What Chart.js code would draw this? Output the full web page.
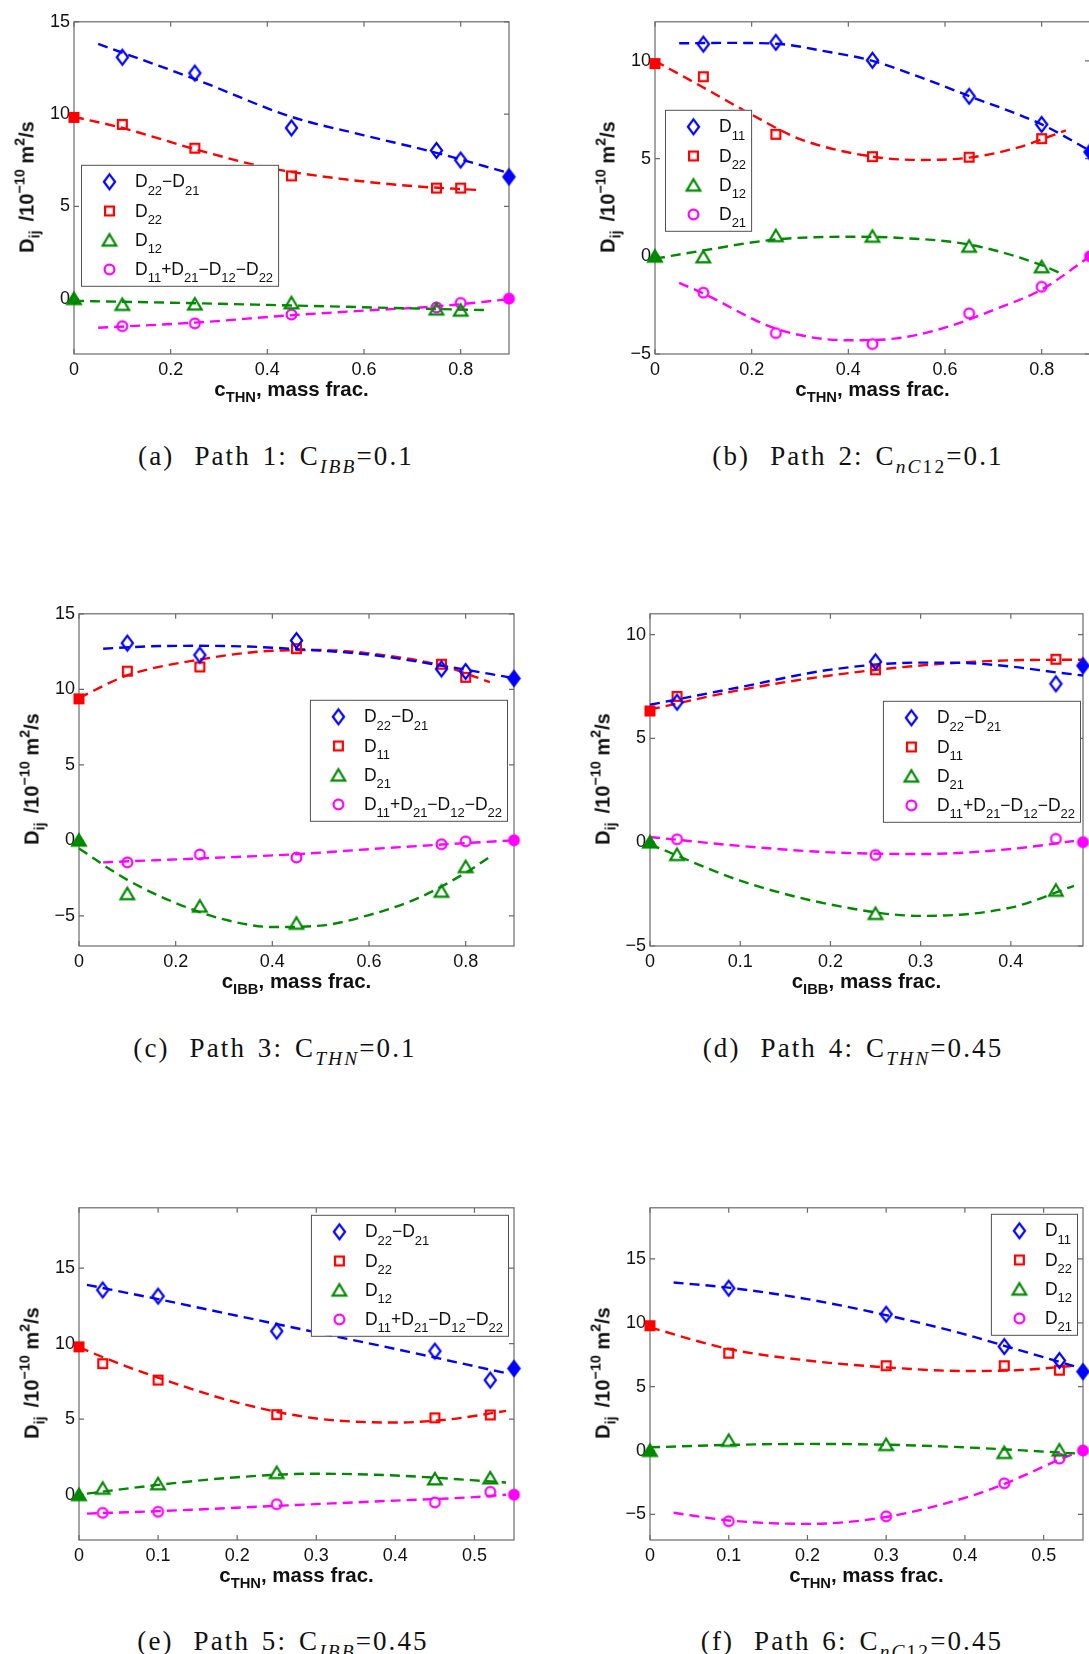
<!DOCTYPE html>
<html>
<head>
<meta charset="utf-8">
<script src="https://cdn.jsdelivr.net/npm/chart.js@4.4.1/dist/chart.umd.min.js"></script>
<style>
html,body{margin:0;padding:0;background:#fff;}
body{width:1089px;height:1654px;position:relative;overflow:hidden;}
canvas{position:absolute;}
.yt,.xt,.cap{position:absolute;white-space:nowrap;line-height:1;color:#111;}
.yt{transform:translate(-50%,-50%) rotate(-90deg);font:bold 20px 'Liberation Sans',Arial,sans-serif;}
.xt{transform:translate(-50%,-50%);font:bold 20.5px 'Liberation Sans',Arial,sans-serif;}
.cap{transform:translate(-50%,-50%);font:27px 'Liberation Serif','Times New Roman',serif;letter-spacing:2.1px;word-spacing:3px;}
.cap .g1{display:inline-block;width:20px;}
.cap .g2{display:inline-block;width:12px;}
sub,sup{font-size:72%;line-height:0;position:relative;vertical-align:baseline;}
sub{top:0.42em;}
sup{top:-0.6em;}
.yt .gap{display:inline-block;width:9px;}
</style>
</head>
<body>
<script>
// --- tick values
const xTicks09 = [0, 0.2, 0.4, 0.6, 0.8];
const xTicks48 = [0, 0.1, 0.2, 0.3, 0.4];
const xTicks55 = [0, 0.1, 0.2, 0.3, 0.4, 0.5];
const yTicksA = [0, 5, 10, 15];
const yTicksB = [-5, 0, 5, 10];
const yTicksC = [-5, 0, 5, 10, 15];
const yTicksD = [-5, 0, 5, 10];
const yTicksE = [0, 5, 10, 15];
const yTicksF = [-5, 0, 5, 10, 15];

// --- legend labels (order: blue, red, green, magenta)
const legDiff = ['D_{22}−D_{21}', 'D_{22}', 'D_{12}', 'D_{11}+D_{21}−D_{12}−D_{22}'];
const legPlain = ['D_{11}', 'D_{22}', 'D_{12}', 'D_{21}'];
const legIBB = ['D_{22}−D_{21}', 'D_{11}', 'D_{21}', 'D_{11}+D_{21}−D_{12}−D_{22}'];

// (a) Path 1
const xA = [0.1, 0.25, 0.45, 0.75, 0.8];
const yA = [
  [13.08, 12.22, 9.25, 8.03, 7.51],
  [9.44, 8.15, 6.65, 5.99, 5.99],
  [-0.32, -0.30, -0.23, -0.57, -0.63],
  [-1.49, -1.34, -0.86, -0.48, -0.23]
];
const endA = [[0.9, 6.6], [0, 9.82], [0, 0], [0.9, 0]];
const fitA = [
  [[0.05,13.8],[0.25,11.9],[0.45,9.85],[0.6,8.85],[0.75,7.9],[0.9,6.8]],
  [[0,9.85],[0.1,9.25],[0.25,8.1],[0.4,7.1],[0.55,6.5],[0.7,6.1],[0.84,5.88]],
  [[0,-0.12],[0.2,-0.22],[0.45,-0.37],[0.65,-0.5],[0.85,-0.62]],
  [[0.05,-1.58],[0.25,-1.3],[0.45,-0.9],[0.6,-0.65],[0.75,-0.42],[0.9,-0.03]]
];

// (b) Path 2
const xB = [0.1, 0.25, 0.45, 0.65, 0.8];
const yB = [
  [10.86, 10.95, 10.03, 8.19, 6.75],
  [9.19, 6.24, 5.10, 5.07, 6.02],
  [-0.03, 1.05, 1.02, 0.51, -0.54],
  [-1.86, -3.93, -4.49, -2.92, -1.56]
];
const endB = [[0.9, 5.34], [0, 9.86], [0, 0], [0.9, 0]];
const fitB = [
  [[0.05,10.9],[0.15,10.92],[0.25,10.88],[0.35,10.5],[0.45,10.0],[0.55,9.15],[0.65,8.2],[0.8,6.75],[0.9,5.4]],
  [[0,10.0],[0.1,8.64],[0.2,7.25],[0.3,6.0],[0.45,5.1],[0.55,4.93],[0.65,5.05],[0.75,5.56],[0.85,6.44]],
  [[0,-0.12],[0.1,0.3],[0.25,0.86],[0.4,1.0],[0.5,0.95],[0.65,0.6],[0.8,-0.45],[0.84,-0.88]],
  [[0.05,-1.36],[0.1,-1.9],[0.25,-3.7],[0.4,-4.3],[0.5,-4.2],[0.6,-3.65],[0.7,-2.75],[0.8,-1.7],[0.9,0]]
];

// (c) Path 3
const xC = [0.1, 0.25, 0.45, 0.75, 0.8];
const yC = [
  [13.06, 12.27, 13.23, 11.35, 11.18],
  [11.2, 11.48, 12.69, 11.66, 10.79],
  [-3.54, -4.37, -5.5, -3.38, -1.75],
  [-1.46, -0.94, -1.14, -0.26, -0.07]
];
const endC = [[0.9, 10.72], [0, 9.37], [0, 0], [0.9, 0]];
const fitC = [
  [[0.05,12.69],[0.15,12.85],[0.25,12.88],[0.35,12.83],[0.45,12.66],[0.6,12.3],[0.75,11.57],[0.9,10.74]],
  [[0,9.43],[0.1,10.92],[0.25,11.97],[0.4,12.55],[0.5,12.6],[0.6,12.38],[0.75,11.57],[0.85,10.48]],
  [[0,-0.55],[0.1,-2.62],[0.2,-4.15],[0.3,-5.24],[0.4,-5.74],[0.5,-5.65],[0.6,-4.95],[0.7,-3.85],[0.8,-2.15],[0.85,-1.1]],
  [[0.05,-1.46],[0.25,-1.2],[0.45,-0.92],[0.6,-0.59],[0.75,-0.28],[0.9,0]]
];

// (d) Path 4
const xD = [0.03, 0.25, 0.45];
const yD = [
  [6.74, 8.69, 7.63],
  [7.02, 8.30, 8.81],
  [-0.60, -3.44, -2.32],
  [0.14, -0.62, 0.16]
];
const endD = [[0.48, 8.5], [0, 6.32], [0, 0], [0.48, 0]];
const fitD = [
  [[0,6.62],[0.1,7.47],[0.2,8.31],[0.3,8.65],[0.35,8.63],[0.4,8.46],[0.45,8.18],[0.48,8.03]],
  [[0,6.39],[0.1,7.33],[0.2,8.03],[0.3,8.51],[0.4,8.76],[0.48,8.79]],
  [[0,-0.1],[0.1,-1.85],[0.2,-3.0],[0.3,-3.55],[0.4,-3.15],[0.47,-2.1]],
  [[0,0.25],[0.1,-0.18],[0.2,-0.49],[0.3,-0.57],[0.4,-0.33],[0.47,0.06]]
];

// (e) Path 5
const xE = [0.03, 0.1, 0.25, 0.45, 0.52];
const yE = [
  [13.56, 13.15, 10.83, 9.51, 7.59],
  [8.68, 7.59, 5.30, 5.09, 5.28],
  [0.42, 0.72, 1.46, 1.04, 1.11],
  [-1.20, -1.13, -0.63, -0.51, 0.19]
];
const endE = [[0.55, 8.36], [0, 9.79], [0, 0], [0.55, 0]];
const fitE = [
  [[0.01,13.9],[0.1,12.95],[0.2,11.85],[0.3,10.75],[0.4,9.65],[0.54,8.05]],
  [[0,9.75],[0.05,8.7],[0.1,7.75],[0.2,6.1],[0.3,5.05],[0.4,4.78],[0.47,5.0],[0.54,5.55]],
  [[0.01,0.07],[0.1,0.65],[0.2,1.16],[0.3,1.39],[0.4,1.27],[0.54,0.81]],
  [[0.01,-1.25],[0.1,-1.09],[0.25,-0.74],[0.4,-0.39],[0.5,-0.16],[0.54,0]]
];

// (f) Path 6
const xF = [0.1, 0.3, 0.45, 0.52];
const yF = [
  [12.71, 10.67, 8.14, 7.05],
  [7.62, 6.64, 6.64, 6.29],
  [0.79, 0.46, -0.16, 0.03],
  [-5.53, -5.15, -2.56, -0.63]
];
const endF = [[0.55, 6.18], [0, 9.77], [0, 0], [0.55, 0]];
const fitF = [
  [[0.03,13.15],[0.1,12.75],[0.2,11.85],[0.3,10.6],[0.4,9.1],[0.45,8.2],[0.55,6.4]],
  [[0,9.64],[0.1,7.95],[0.2,7.05],[0.3,6.51],[0.4,6.23],[0.47,6.3],[0.54,6.64]],
  [[0,0.25],[0.1,0.44],[0.2,0.52],[0.3,0.46],[0.4,0.25],[0.5,-0.08],[0.54,-0.22]],
  [[0.03,-4.87],[0.1,-5.47],[0.2,-5.74],[0.3,-5.2],[0.4,-3.7],[0.45,-2.61],[0.52,-0.71],[0.54,-0.2]]
];

const COLORS = ['#0000ff', '#ff0000', '#008a00', '#ff00ff'];
const SHAPES = ['d', 's', 't', 'o'];
const FONT = "'Liberation Sans', Arial, sans-serif";
Chart.defaults.font.family = FONT;
Chart.defaults.font.size = 18;

// marker drawn on a small canvas, used as pointStyle
function mk(shape, color, fill) {
  const sz = {d: [17, 21], s: [13, 13], t: [20, 18], o: [15, 15]}[shape];
  const c = document.createElement('canvas');
  c.width = sz[0]; c.height = sz[1];
  const g = c.getContext('2d');
  const cx = sz[0] / 2, cy = sz[1] / 2;
  g.strokeStyle = color; g.fillStyle = color; g.lineWidth = 2.2;
  g.beginPath();
  if (shape === 'd') { g.moveTo(cx, cy - 7.4); g.lineTo(cx + 5.6, cy); g.lineTo(cx, cy + 7.4); g.lineTo(cx - 5.6, cy); g.closePath(); }
  else if (shape === 's') { g.rect(cx - 4.4, cy - 4.4, 8.8, 8.8); }
  else if (shape === 't') { g.moveTo(cx, cy - 6); g.lineTo(cx + 6.8, cy + 5.4); g.lineTo(cx - 6.8, cy + 5.4); g.closePath(); }
  else { g.arc(cx, cy, 4.9, 0, Math.PI * 2); }
  if (fill) g.fill();
  g.stroke();
  return c;
}
const OPEN = SHAPES.map((s, i) => mk(s, COLORS[i], false));
const FILLED = SHAPES.map((s, i) => mk(s, COLORS[i], true));

// text with _{sub} parts
function rich(ctx, s, x, y, draw) {
  const parts = s.split(/_\{([^}]*)\}/);
  parts.forEach((t, i) => {
    if (!t) return;
    const sub = i % 2 === 1;
    ctx.font = (sub ? '13px ' : '17.5px ') + FONT;
    if (draw) ctx.fillText(t, x, sub ? y + 7.5 : y);
    x += ctx.measureText(t).width;
  });
  return x;
}

const framePlugin = {
  id: 'frame',
  beforeDatasetsDraw(chart) {
    const {ctx, chartArea: a, scales: {x, y}} = chart;
    ctx.save();
    ctx.strokeStyle = '#6a6a6a';
    ctx.lineWidth = 1.2;
    ctx.strokeRect(a.left, a.top, a.right - a.left, a.bottom - a.top);
    ctx.beginPath();
    x.ticks.forEach(t => {
      const px = x.getPixelForValue(t.value);
      ctx.moveTo(px, a.bottom); ctx.lineTo(px, a.bottom - 5);
      ctx.moveTo(px, a.top); ctx.lineTo(px, a.top + 5);
    });
    y.ticks.forEach(t => {
      const py = y.getPixelForValue(t.value);
      ctx.moveTo(a.left, py); ctx.lineTo(a.left + 5, py);
      ctx.moveTo(a.right, py); ctx.lineTo(a.right - 5, py);
    });
    ctx.stroke();
    ctx.restore();
  }
};

function makeLegend(p) {
  return {
    id: 'rleg',
    afterDraw(chart) {
      const {ctx, chartArea: a} = chart;
      ctx.save();
      let tw = 0;
      p.leg.forEach(s => { tw = Math.max(tw, rich(ctx, s, 0, 0, false)); });
      const w = 54 + tw + 5, h = 121;
      const x0 = p.lp.left !== undefined ? a.left + p.lp.left : a.right - p.lp.right - w;
      const y0 = a.top + p.lp.top;
      ctx.fillStyle = '#fff';
      ctx.fillRect(x0, y0, w, h);
      ctx.strokeStyle = '#505050';
      ctx.lineWidth = 1;
      ctx.strokeRect(x0 + 0.5, y0 + 0.5, w, h);
      ctx.fillStyle = '#111';
      ctx.textBaseline = 'alphabetic';
      p.leg.forEach((s, i) => {
        const ry = y0 + 17 + i * 29.2;
        const m = OPEN[i];
        ctx.drawImage(m, x0 + 28.5 - m.width / 2, ry - m.height / 2);
        rich(ctx, s, x0 + 54, ry + 5.5, true);
      });
      ctx.restore();
    }
  };
}

const fmt = v => (v < 0 ? '\u2212' + (-v) : String(v));

const panels = [
  {r: [74, 19, 435, 335], xr: [0, 0.9], yr: [-3, 15], xt: xTicks09, yt: yTicksA, xs: xA, ys: yA, ends: endA, fits: fitA, leg: legDiff, lp: {left: 7, top: 143}, sub: 'THN',
   cap: '(a)<span class="g1"></span>Path 1:<span class="g2"></span>C<sub><i>IBB</i></sub>=0.1', cx: 276, cy: 456},
  {r: [655, 19, 435, 335], xr: [0, 0.9], yr: [-5, 12], xt: xTicks09, yt: yTicksB, xs: xB, ys: yB, ends: endB, fits: fitB, leg: legPlain, lp: {left: 10, top: 88}, sub: 'THN',
   cap: '(b)<span class="g1"></span>Path 2:<span class="g2"></span>C<sub><i>nC</i>12</sub>=0.1', cx: 858, cy: 456},
  {r: [79, 611, 435, 335], xr: [0, 0.9], yr: [-7, 15], xt: xTicks09, yt: yTicksC, xs: xC, ys: yC, ends: endC, fits: fitC, leg: legIBB, lp: {right: 7, top: 86}, sub: 'IBB',
   cap: '(c)<span class="g1"></span>Path 3:<span class="g2"></span>C<sub><i>THN</i></sub>=0.1', cx: 275, cy: 1048},
  {r: [650, 611, 433, 335], xr: [0, 0.48], yr: [-5, 11], xt: xTicks48, yt: yTicksD, xs: xD, ys: yD, ends: endD, fits: fitD, leg: legIBB, lp: {right: 3, top: 87}, sub: 'IBB',
   cap: '(d)<span class="g1"></span>Path 4:<span class="g2"></span>C<sub><i>THN</i></sub>=0.45', cx: 853, cy: 1048},
  {r: [79, 1205, 435, 335], xr: [0, 0.55], yr: [-3, 19], xt: xTicks55, yt: yTicksE, xs: xE, ys: yE, ends: endE, fits: fitE, leg: legDiff, lp: {right: 6, top: 7}, sub: 'THN',
   cap: '(e)<span class="g1"></span>Path 5:<span class="g2"></span>C<sub><i>IBB</i></sub>=0.45', cx: 283, cy: 1641},
  {r: [650, 1205, 433, 335], xr: [0, 0.55], yr: [-7, 19], xt: xTicks55, yt: yTicksF, xs: xF, ys: yF, ends: endF, fits: fitF, leg: legPlain, lp: {right: 6, top: 6}, sub: 'THN',
   cap: '(f)<span class="g1"></span>Path 6:<span class="g2"></span>C<sub><i>nC</i>12</sub>=0.45', cx: 852, cy: 1641}
];

panels.forEach(p => {
  const [L, T, W, H] = p.r;
  const cv = document.createElement('canvas');
  cv.width = W + 70; cv.height = H + 52;
  cv.style.left = (L - 60) + 'px';
  cv.style.top = (T - 12) + 'px';
  document.body.appendChild(cv);

  const datasets = [];
  p.fits.forEach((f, i) => datasets.push({
    data: f.map(q => ({x: q[0], y: q[1]})), showLine: true, pointRadius: 0,
    borderColor: COLORS[i], borderWidth: 2.4, borderDash: [10, 6],
    cubicInterpolationMode: 'monotone', clip: false, order: 3
  }));
  p.ys.forEach((ys, i) => datasets.push({
    data: ys.map((v, k) => ({x: p.xs[k], y: v})), pointStyle: OPEN[i], pointRadius: 6,
    clip: false, order: 2
  }));
  p.ends.forEach((e, i) => datasets.push({
    data: [{x: e[0], y: e[1]}], pointStyle: FILLED[i], pointRadius: 6, clip: false, order: 1
  }));

  const tickFont = {size: 18, family: FONT};
  new Chart(cv, {
    type: 'scatter',
    data: {datasets},
    options: {
      responsive: false, animation: false, events: [],
      layout: {padding: {top: 12, right: 10, left: 0, bottom: 0}},
      plugins: {legend: {display: false}, tooltip: {enabled: false}},
      scales: {
        x: {
          type: 'linear', min: p.xr[0], max: p.xr[1],
          grid: {display: false, drawTicks: false}, border: {display: false},
          afterBuildTicks: s => { s.ticks = p.xt.map(v => ({value: v})); },
          afterFit: s => { s.height = 40; },
          ticks: {padding: 5, autoSkip: false, maxRotation: 0, color: '#111', font: tickFont, callback: fmt}
        },
        y: {
          type: 'linear', min: p.yr[0], max: p.yr[1],
          grid: {display: false, drawTicks: false}, border: {display: false},
          afterBuildTicks: s => { s.ticks = p.yt.map(v => ({value: v})); },
          afterFit: s => { s.width = 60; },
          ticks: {padding: 4, autoSkip: false, color: '#111', font: tickFont, callback: fmt}
        }
      }
    },
    plugins: [framePlugin, makeLegend(p)]
  });

  const yt = document.createElement('div');
  yt.className = 'yt';
  yt.innerHTML = 'D<sub>ij</sub><span class="gap"></span>/10<sup>\u221210</sup> m<sup>2</sup>/s';
  yt.style.left = (L - 47) + 'px';
  yt.style.top = (T + H / 2) + 'px';
  document.body.appendChild(yt);

  const xt = document.createElement('div');
  xt.className = 'xt';
  xt.innerHTML = 'c<sub>' + p.sub + '</sub>, mass frac.';
  xt.style.left = (L + W / 2) + 'px';
  xt.style.top = (T + H + 35) + 'px';
  document.body.appendChild(xt);

  const cap = document.createElement('div');
  cap.className = 'cap';
  cap.innerHTML = p.cap;
  cap.style.left = p.cx + 'px';
  cap.style.top = p.cy + 'px';
  document.body.appendChild(cap);
});
</script>
</body>
</html>
